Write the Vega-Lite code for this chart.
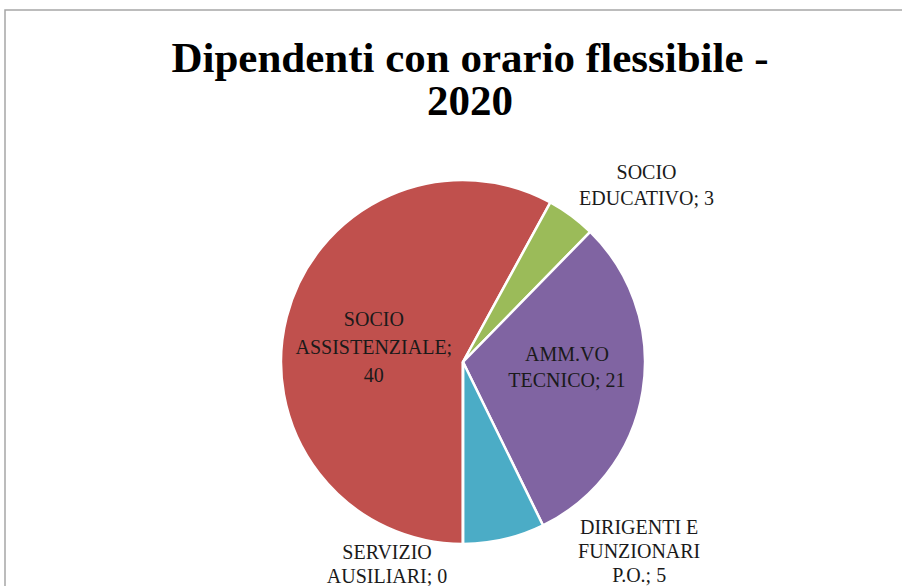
{
  "$schema": "https://vega.github.io/schema/vega-lite/v6.json",
  "width": 916,
  "height": 704,
  "autosize": {"type": "none"},
  "padding": {"left": 5, "top": 10, "right": 0, "bottom": 0},
  "background": "white",
  "view": {"stroke": "#a6a6a6", "strokeWidth": 1.5, "fill": null},
  "title": {
    "text": ["Dipendenti con orario flessibile -", "2020"],
    "anchor": "middle",
    "frame": "group",
    "dx": 7,
    "dy": 74,
    "orient": "top",
    "offset": -40,
    "baseline": "top",
    "font": "Liberation Serif",
    "fontSize": 43,
    "fontWeight": "bold",
    "lineHeight": 43,
    "color": "#000000"
  },
  "data": {
    "values": [
      {"cat": "SOCIO ASSISTENZIALE", "label": "SOCIO\nASSISTENZIALE;\n40", "value": 40, "ord": 1},
      {"cat": "SOCIO EDUCATIVO", "label": "SOCIO\nEDUCATIVO; 3", "value": 3, "ord": 2},
      {"cat": "AMM.VO TECNICO", "label": "AMM.VO\nTECNICO; 21", "value": 21, "ord": 3},
      {"cat": "DIRIGENTI E FUNZIONARI P.O.", "label": "DIRIGENTI E\nFUNZIONARI\nP.O.; 5", "value": 5, "ord": 4},
      {"cat": "SERVIZIO AUSILIARI", "label": "SERVIZIO\nAUSILIARI; 0", "value": 0, "ord": 5}
    ]
  },
  "encoding": {
    "theta": {"field": "value", "type": "quantitative", "stack": true, "scale": {"range": [3.14159265, 9.42477796]}},
    "order": {"field": "ord", "type": "quantitative"}
  },
  "layer": [
    {
      "mark": {"type": "arc", "outerRadius": 182, "stroke": "white", "strokeWidth": 2.5},
      "encoding": {
        "color": {
          "field": "cat",
          "type": "nominal",
          "legend": null,
          "scale": {
            "domain": ["SOCIO ASSISTENZIALE", "SOCIO EDUCATIVO", "AMM.VO TECNICO", "DIRIGENTI E FUNZIONARI P.O.", "SERVIZIO AUSILIARI"],
            "range": ["#C0504D", "#9BBB59", "#8064A2", "#4BACC6", "#F79646"]
          }
        }
      }
    },
    {
      "mark": {"type": "text", "radius": 91, "thetaOffset": -0.05, "dy": -24, "font": "Liberation Serif", "fontSize": 20, "lineHeight": 28, "lineBreak": "\n", "color": "#1a1a1a", "align": "center", "baseline": "middle"},
      "encoding": {"text": {"condition": {"test": "datum.cat === 'SOCIO ASSISTENZIALE'", "field": "label"}, "value": ""}}
    },
    {
      "mark": {"type": "text", "radius": 104, "thetaOffset": -0.131, "dy": -10, "font": "Liberation Serif", "fontSize": 20, "lineHeight": 26, "lineBreak": "\n", "color": "#1a1a1a", "align": "center", "baseline": "middle"},
      "encoding": {"text": {"condition": {"test": "datum.cat === 'AMM.VO TECNICO'", "field": "label"}, "value": ""}}
    },
    {
      "mark": {"type": "text", "radius": 255, "thetaOffset": 0.166, "dy": -12, "font": "Liberation Serif", "fontSize": 20, "lineHeight": 26, "lineBreak": "\n", "color": "#1a1a1a", "align": "center", "baseline": "middle"},
      "encoding": {"text": {"condition": {"test": "datum.cat === 'SOCIO EDUCATIVO'", "field": "label"}, "value": ""}}
    },
    {
      "mark": {"type": "text", "radius": 258, "thetaOffset": -0.524, "dy": -22, "font": "Liberation Serif", "fontSize": 20, "lineHeight": 24, "lineBreak": "\n", "color": "#1a1a1a", "align": "center", "baseline": "middle"},
      "encoding": {"text": {"condition": {"test": "datum.cat === 'DIRIGENTI E FUNZIONARI P.O.'", "field": "label"}, "value": ""}}
    },
    {
      "mark": {"type": "text", "radius": 215, "thetaOffset": 0.361, "dy": -10, "font": "Liberation Serif", "fontSize": 20, "lineHeight": 24, "lineBreak": "\n", "color": "#1a1a1a", "align": "center", "baseline": "middle"},
      "encoding": {"text": {"condition": {"test": "datum.cat === 'SERVIZIO AUSILIARI'", "field": "label"}, "value": ""}}
    }
  ]
}
